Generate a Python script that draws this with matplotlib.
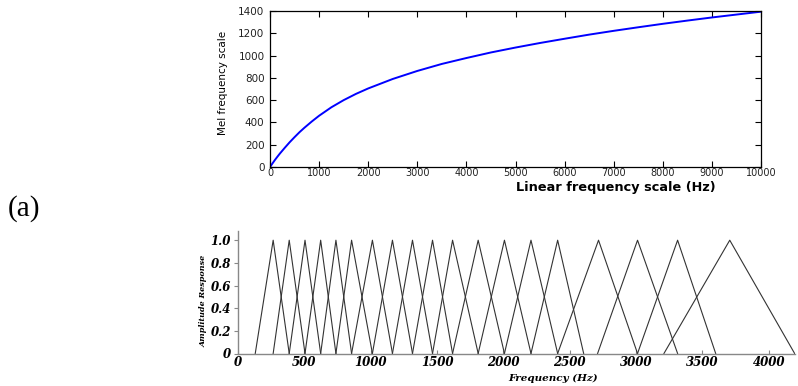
import matplotlib
matplotlib.use("Agg")
import matplotlib.pyplot as plt

# ---- Top panel data: linear frequency (Hz) vs mel scale
lin_freq = [0, 25, 50, 100, 150, 200, 300, 400, 500, 600, 700, 850, 1000, 1250,
            1500, 1750, 2000, 2500, 3000, 3500, 4000, 4500, 5000, 5500, 6000,
            6500, 7000, 7500, 8000, 8500, 9000, 9500, 10000]
mel_vals = [0, 16, 32, 63, 92, 120, 172, 222, 268, 312, 352, 408, 460, 536,
            600, 656, 705, 790, 862, 925, 978, 1028, 1072, 1113, 1151,
            1188, 1222, 1254, 1285, 1314, 1342, 1368, 1394]

# ---- Bottom panel data: triangular filters (left edge, peak, right edge in Hz)
filt_left   = [130, 265, 386, 505, 623, 738, 856, 1013, 1164, 1315,
               1466, 1617, 1810, 2008, 2208, 2409, 2710, 3011, 3210]
filt_center = [265, 386, 505, 623, 738, 856, 1013, 1164, 1315, 1466,
               1617, 1810, 2008, 2208, 2409, 2717, 3011, 3313, 3706]
filt_right  = [386, 505, 623, 738, 856, 1013, 1164, 1315, 1466, 1617,
               1810, 2008, 2208, 2409, 2605, 3011, 3313, 3600, 4195]
filt_peak = [1.0] * len(filt_center)

top_xticks = list(range(0, 10001, 1000))
top_yticks = list(range(0, 1401, 200))
bot_xticks = list(range(0, 4001, 500))
bot_yticks = [0, 0.2, 0.4, 0.6, 0.8, 1.0]
bot_yticklabels = ['0', '0.2', '0.4', '0.6', '0.8', '1.0']

W, H = 798, 386
fig = plt.figure(figsize=(W / 100, H / 100), dpi=100)

# ---------------- Top panel ----------------
ax1 = fig.add_axes([270 / W, 1 - 167 / H, 491 / W, 156 / H])
ax1.plot(lin_freq, mel_vals, color='#0000ff', lw=1.4)
ax1.set_xlim(0, 10000)
ax1.set_ylim(0, 1400)
ax1.set_xticks(top_xticks)
ax1.set_yticks(top_yticks)
ax1.set_xticklabels([str(v) for v in top_xticks], family='DejaVu Sans', fontsize=7, color='#222222')
ax1.set_yticklabels([str(v) for v in top_yticks], family='DejaVu Sans', fontsize=7.5, color='#222222')
ax1.tick_params(direction='in', top=True, right=True, length=4, width=0.8)
ax1.tick_params(axis='x', pad=1)
ax1.tick_params(axis='y', pad=4)
for s in ax1.spines.values():
    s.set_linewidth(0.9)
    s.set_color('black')
ax1.set_xlabel('Linear frequency scale (Hz)', family='DejaVu Sans', fontweight='bold', fontsize=9.3)
ax1.xaxis.set_label_coords((616 - 270) / 491, (167 - 180.5) / 156)
ax1.set_ylabel('Mel frequency scale', family='DejaVu Sans', fontsize=7.5)
ax1.yaxis.set_label_coords((228 - 270) / 491, (167 - 83) / 156)

# ---------------- Bottom panel ----------------
ymax = 1.08
ax2 = fig.add_axes([238 / W, 1 - 353.5 / H, 557.3 / W, (113.3 * ymax) / H])
for l, c, r, p in zip(filt_left, filt_center, filt_right, filt_peak):
    ax2.plot([l, c, r], [0, p, 0], color='#333333', lw=0.8)
ax2.set_xlim(0, 4200)
ax2.set_ylim(0, ymax)
ax2.set_xticks(bot_xticks)
ax2.set_yticks(bot_yticks)
fnt = dict(family='DejaVu Serif', fontweight='bold', style='italic')
ax2.set_xticklabels([str(v) for v in bot_xticks], fontsize=8.5, **fnt)
ax2.set_yticklabels(bot_yticklabels, fontsize=8.5, **fnt)
ax2.spines['top'].set_visible(False)
ax2.spines['right'].set_visible(False)
for k in ('left', 'bottom'):
    ax2.spines[k].set_color('#888888')
    ax2.spines[k].set_linewidth(1.0)
ax2.tick_params(axis='x', direction='in', length=3, color='#888888', pad=2)
ax2.tick_params(axis='y', direction='out', length=3, color='#888888', pad=2)
ax2.set_xlabel('Frequency (Hz)', fontsize=7.5, **fnt)
ax2.xaxis.set_label_coords((553 - 238) / 557.3, (353.5 - 374) / (113.3 * ymax))
ax2.set_ylabel('Amplitude Response', fontsize=5.8, **fnt)
ax2.yaxis.set_label_coords((208 - 238) / 557.3, (353.5 - 301) / (113.3 * ymax))

fig.text(8 / W, 1 - 209 / H, '(a)', family='Liberation Serif', fontsize=21, va='center', ha='left')

fig.savefig('out.png', dpi=100)
